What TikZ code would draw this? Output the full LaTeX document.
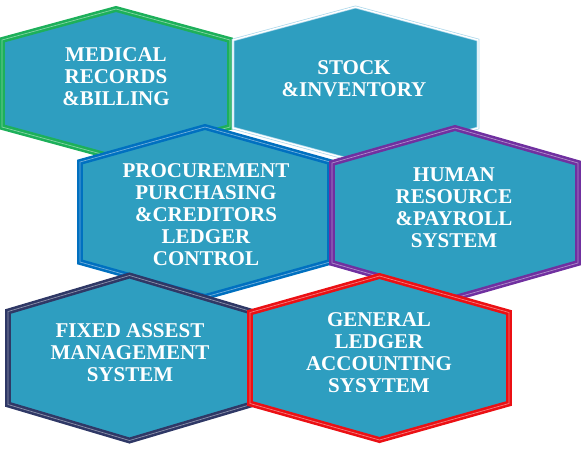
\documentclass[tikz,border=0pt]{standalone}
\usepackage{fontspec}
\setmainfont{LiberationSerif-Regular.ttf}[BoldFont=LiberationSerif-Bold.ttf]
\usepackage{tikz}
\usetikzlibrary{positioning}
\definecolor{hexfill}{RGB}{46,158,192}
\definecolor{hexgreen}{RGB}{29,176,90}
\definecolor{hexblue}{RGB}{0,112,192}
\definecolor{hexpurple}{RGB}{112,48,160}
\definecolor{hexnavy}{RGB}{47,56,102}
\definecolor{hexred}{RGB}{235,16,20}
\definecolor{hexpale}{RGB}{170,215,235}
\tikzset{
  hexbox/.style={fill=hexfill, line join=miter, draw=#1, line width=2.6pt,
    double=#1!55!white, double distance=0.7pt},
  hexthin/.style={fill=hexfill, line join=miter, draw=hexpale, line width=0.7pt,
    double=white, double distance=1.4pt},
  hexlabel/.style={text=white, align=center, inner sep=0pt,
    font=\fontsize{21}{22}\selectfont\bfseries}
}
% hexagon: style, centre x, centre y, half width, half side, peak
\newcommand{\drawhex}[6]{%
  \draw[#1] (#2,#3-#5-#6) -- (#2+#4,#3-#5) -- (#2+#4,#3+#5) -- (#2,#3+#5+#6)
    -- (#2-#4,#3+#5) -- (#2-#4,#3-#5) -- cycle;}
\begin{document}
\begin{tikzpicture}[x=1pt, y=-1pt]
            \useasboundingbox (0,0) rectangle (581,448);
            % top row
            \drawhex{hexbox=hexgreen}{116}{83.5}{114}{43.5}{31}% medical records
            \drawhex{hexthin}{355.5}{84}{122.5}{44}{33}% stock
            % middle row
            \drawhex{hexbox=hexblue}{205}{212}{125}{50}{35}% procurement
            \drawhex{hexbox=hexpurple}{455}{213}{123}{50}{35}% human resource
            % bottom row
            \drawhex{hexbox=hexnavy}{129.5}{358}{121.5}{46.5}{36}% fixed assets
            \drawhex{hexbox=hexred}{379.5}{358}{129.5}{45.5}{36.5}% general ledger
            % labels
            \node[hexlabel] (medical) at (116,77) {MEDICAL\\RECORDS\\\&BILLING};
            \node[hexlabel] (stock) at (354,78.5) {STOCK\\\&INVENTORY};
            \node[hexlabel] (procure) at (206,215) {PROCUREMENT\\PURCHASING\\\&CREDITORS\\LEDGER\\CONTROL};
            \node[hexlabel] (payroll) at (454,208) {HUMAN\\RESOURCE\\\&PAYROLL\\SYSTEM};
            \node[hexlabel] (assets) at (130,353) {FIXED ASSEST\\MANAGEMENT\\SYSTEM};
            \node[hexlabel] (ledger) at (379,353) {GENERAL\\LEDGER\\ACCOUNTING\\SYSYTEM};
\end{tikzpicture}
\end{document}
